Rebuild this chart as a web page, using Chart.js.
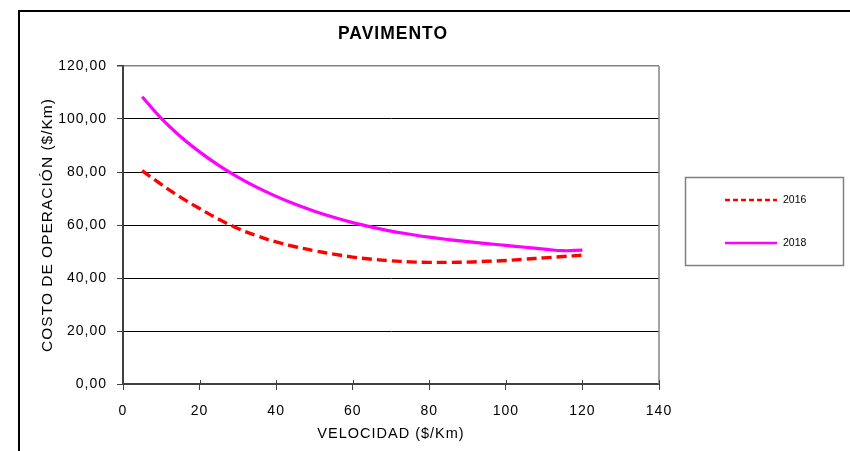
<!DOCTYPE html>
<html><head><meta charset="utf-8">
<script src="https://cdn.jsdelivr.net/npm/chart.js@4.4.0/dist/chart.umd.min.js"></script>
<style>html,body{margin:0;padding:0;background:#fff;overflow:hidden}canvas{display:block}</style>
</head><body>
<canvas id="c" width="850" height="451"></canvas>
<script>
const chartTitle = 'PAVIMENTO';
const xAxisTitle = 'VELOCIDAD ($/Km)';
const yAxisTitle = 'COSTO DE OPERACIÓN ($/Km)';
const seriesNames = ['2016', '2018'];
const velocity = [5,10,15,20,25,30,35,40,45,50,55,60,65,70,75,80,85,90,95,100,105,110,115,120];
const cost2016 = [80.5,75.3,70.5,66.2,62.2,58.7,55.9,53.6,51.8,50.3,49.0,47.9,47.1,46.5,46.1,45.9,45.9,46.0,46.3,46.6,47.1,47.6,48.1,48.6];
const cost2018 = [108.4,100.2,93.4,87.6,82.5,78.1,74.2,70.8,67.8,65.2,62.9,60.9,59.2,57.7,56.5,55.4,54.5,53.7,53.0,52.3,51.6,50.9,50.3,50.5];
const xMin = 0, xMax = 140, xStep = 20;
const yMin = 0, yMax = 120, yStep = 20;

const FONT = "'Liberation Sans', Arial, sans-serif";
const SPACING = '1px';

const toPts = (ys) => velocity.map((v, i) => ({x: v, y: ys[i]}));

const spacingPlugin = {
  id: 'spacing',
  beforeUpdate(chart) { chart.ctx.letterSpacing = SPACING; },
  beforeLayout(chart) { chart.ctx.letterSpacing = SPACING; },
  beforeDraw(chart) { chart.ctx.letterSpacing = SPACING; }
};

const decorPlugin = {
  id: 'decor',
  beforeDraw(chart) {
    const ctx = chart.ctx;
    ctx.save();
    ctx.strokeStyle = '#000';
    ctx.lineWidth = 2;
    ctx.strokeRect(19, 11, 900, 500);
    ctx.restore();
  },
  afterDraw(chart) {
    const ctx = chart.ctx;
    const a = chart.chartArea;
    const xs = chart.scales.x;
    ctx.save();
    ctx.strokeStyle = '#858585';
    ctx.lineWidth = 1.5;
    ctx.beginPath();
    ctx.moveTo(a.right, a.top);
    ctx.lineTo(a.right, a.bottom);
    ctx.stroke();
    ctx.strokeStyle = '#404040';
    ctx.lineWidth = 1;
    xs.ticks.forEach(t => {
      const px = Math.round(xs.getPixelForValue(t.value)) + 0.5;
      ctx.beginPath();
      ctx.moveTo(px, a.bottom);
      ctx.lineTo(px, a.bottom - 4);
      ctx.stroke();
    });
    ctx.letterSpacing = '1px';
    ctx.fillStyle = '#000';
    ctx.font = "bold 17.5px " + FONT;
    ctx.textAlign = 'center';
    ctx.textBaseline = 'middle';
    ctx.fillText(chartTitle, (a.left + a.right) / 2 + 2, 34);
    ctx.letterSpacing = '0px';
    ctx.strokeStyle = '#808080';
    ctx.lineWidth = 1.5;
    ctx.strokeRect(685.5, 177.5, 158, 88);
    const ds = chart.data.datasets;
    const rows = [200, 243];
    ds.forEach((d, i) => {
      ctx.save();
      ctx.strokeStyle = d.borderColor;
      ctx.lineWidth = 2.5;
      ctx.setLineDash(d.borderDash && d.borderDash.length ? [5, 3] : []);
      ctx.beginPath();
      ctx.moveTo(725, rows[i]);
      ctx.lineTo(777, rows[i]);
      ctx.stroke();
      ctx.restore();
      ctx.fillStyle = '#000';
      ctx.font = "10.5px " + FONT;
      ctx.textAlign = 'left';
      ctx.textBaseline = 'middle';
      ctx.fillText(d.label, 783, rows[i] + 0.5);
    });
    ctx.restore();
  }
};

new Chart(document.getElementById('c'), {
  type: 'line',
  data: {
    datasets: [
      { label: seriesNames[0], data: toPts(cost2016), borderColor: '#FF0000', borderWidth: 3.4,
        borderDash: [10, 5], pointRadius: 0, tension: 0.4, fill: false },
      { label: seriesNames[1], data: toPts(cost2018), borderColor: '#FF00FF', borderWidth: 3.2,
        pointRadius: 0, tension: 0.4, fill: false }
    ]
  },
  options: {
    responsive: false,
    animation: false,
    events: [],
    layout: { padding: { left: 0, top: 66, right: 191, bottom: 0 } },
    plugins: { legend: { display: false }, title: { display: false }, tooltip: { enabled: false } },
    scales: {
      x: {
        type: 'linear', min: xMin, max: xMax,
        afterFit: (s) => { s.height = 67; },
        ticks: { stepSize: xStep, color: '#000', padding: 13, font: { family: FONT, size: 14 }, maxRotation: 0 },
        grid: { drawOnChartArea: false, tickLength: 6, color: '#404040' },
        border: { display: true, color: '#404040', width: 2 },
        title: { display: true, text: xAxisTitle, color: '#000', font: { family: FONT, size: 14.5 }, padding: { top: 0, bottom: 8 } }
      },
      y: {
        min: yMin, max: yMax,
        afterFit: (s) => { s.width = 123; },
        ticks: { stepSize: yStep, color: '#000', padding: 10, font: { family: FONT, size: 14 },
          callback: (v) => v.toFixed(2).replace('.', ',') },
        grid: { color: (c) => (c.tick && c.tick.value === yMax) ? '#858585' : '#000', lineWidth: (c) => (c.tick && c.tick.value === yMax) ? 1.5 : 1, tickLength: 6, tickColor: '#404040' },
        border: { display: true, color: '#404040', width: 2 },
        title: { display: true, text: yAxisTitle, color: '#000', font: { family: FONT, size: 15.5 }, padding: { top: 38, bottom: 0 } }
      }
    }
  },
  plugins: [spacingPlugin, decorPlugin]
});
</script>
</body></html>
